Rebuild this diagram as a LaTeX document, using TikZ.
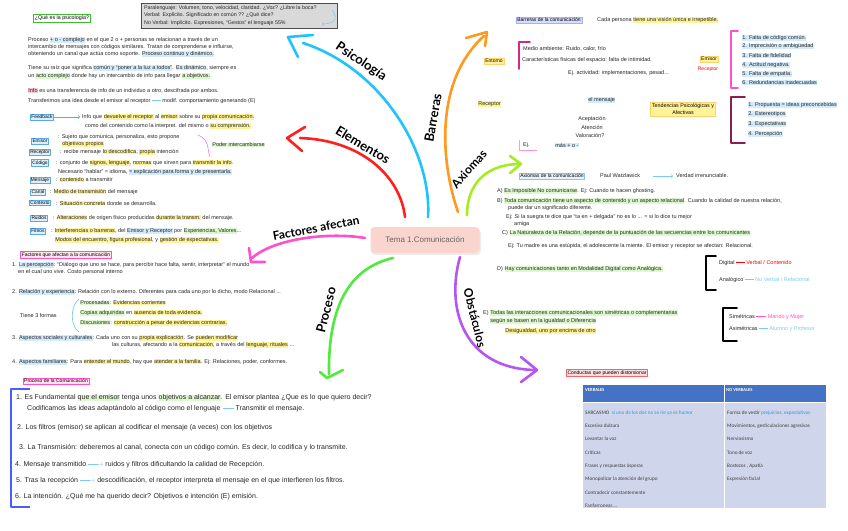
\documentclass[tikz,border=0pt]{standalone}
\usepackage{fontspec}
\setmainfont{Liberation Sans}
\newfontfamily\tabfont{Carlito}
\newfontfamily\brfont{Lato}
\definecolor{hy}{HTML}{FFF39A}
\definecolor{hbl}{HTML}{D3EBFB}
\definecolor{hgr}{HTML}{DDF8CF}
\definecolor{hpk}{HTML}{F9C9D2}
\definecolor{lb}{HTML}{7EC8F5}
\definecolor{cyb}{HTML}{1FC3FF}
\definecolor{redb}{HTML}{FF1F1F}
\definecolor{magb}{HTML}{FF4FCB}
\definecolor{grb}{HTML}{4FEA3C}
\definecolor{orb}{HTML}{FF9A1F}
\definecolor{ygb}{HTML}{A6EC1F}
\definecolor{pub}{HTML}{B555F2}
\definecolor{centerf}{HTML}{F9D5CD}
\definecolor{boxb}{HTML}{5AAAE6}
\definecolor{boxbf}{HTML}{DCEFFC}
\definecolor{tabhead}{HTML}{4472C4}
\definecolor{tabbody}{HTML}{CFD5EA}
\definecolor{tabblue}{HTML}{3D8FE0}
\definecolor{brblue}{HTML}{4B5BFF}
\definecolor{maroon}{HTML}{8B1E4F}
\definecolor{magbr}{HTML}{D6287F}
\newcommand\HL[2]{{\setlength{\fboxsep}{0.2pt}\colorbox{#1}{#2}}}
\newcommand\HLy[1]{\HL{hy}{#1}}
\newcommand\HLb[1]{\HL{hbl}{#1}}
\newcommand\HLg[1]{\HL{hgr}{#1}}
\newcommand\HLp[1]{\HL{hpk}{#1}}
\newcommand\LBln{\textcolor{lb}{\rule[0.55ex]{1.6em}{0.5pt}}}
\newcommand\LBar{\textcolor{lb}{\rule[0.55ex]{1.4em}{0.5pt}\kern-0.35em$\rightarrow$}}
\newcommand\REDln{\textcolor{red}{\rule[0.55ex]{1.6em}{0.5pt}}}
\newcommand\MAGln{\textcolor{magb}{\rule[0.55ex]{1.8em}{0.5pt}}}
\tikzset{
 txt/.style={anchor=west, inner sep=0pt, font=\fontsize{5.5}{6}\selectfont, text=black!85},
 gtxt/.style={anchor=west, inner sep=0pt, font=\fontsize{5.3}{6}\selectfont, text=black!85},
 ptxt/.style={anchor=west, inner sep=0pt, font=\fontsize{7}{8}\selectfont, text=black!85},
 elbox/.style={draw=boxb, fill=boxbf, inner sep=1pt, font=\fontsize{4.8}{5}\selectfont, line width=0.5pt},
 ybox/.style={draw=hy!70!orange, fill=hy, inner sep=1.2pt, font=\fontsize{5}{6}\selectfont, line width=0.4pt},
 pbox/.style={draw=magb, fill=hpk!50, inner sep=1.2pt, font=\fontsize{5}{6}\selectfont, line width=0.6pt},
 branch/.style={line width=2.6pt, line cap=round, line join=round},
 brack/.style={line width=1.6pt, line cap=round, line join=round},
 brlabel/.style={font=\brfont\bfseries\fontsize{13}{14}\selectfont, inner sep=0pt},
 tabtxt/.style={anchor=west, inner sep=0pt, font=\tabfont\fontsize{5.2}{6}\selectfont, text=black!75},
}
\begin{document}
\begin{tikzpicture}[x=1pt,y=-1pt]
\useasboundingbox (0,0) rectangle (848,530);
\fill[white] (0,0) rectangle (848,530);

% ---------- central node ----------
\fill[black!7, rounded corners=4pt] (371,229) rectangle (481,255);
\node[fill=centerf, rounded corners=4pt, minimum width=109pt, minimum height=26pt,
      font=\fontsize{8}{9}\selectfont, text=black!60] (c) at (425,240) {Tema 1.Comunicación};

% ---------- branches ----------
\coordinate (psiS) at (428,217); \coordinate (psiE) at (303,43);
\draw[branch,cyb] (psiS) .. controls (432,150) and (380,68) .. (psiE);
\draw[branch,cyb] (313,35) -- (288,37) -- (298,57);
\node[brlabel, rotate=-34] (psi) at (361,62) {Psicología};

\coordinate (elS) at (405,217); \coordinate (elE) at (300,138);
\draw[branch,redb] (elS) .. controls (400,175) and (360,140) .. (elE);
\draw[branch,redb] (305,127) -- (287,138) -- (302,151);
\node[brlabel, rotate=-31] (ele) at (363,145) {Elementos};

\coordinate (faS) at (365,238); \coordinate (faE) at (252,258);
\draw[branch,magb] (faS) .. controls (330,232) and (275,238) .. (faE);
\draw[branch,magb] (249,248) -- (251,262) -- (265,262);
\node[brlabel, rotate=11, font=\brfont\bfseries\fontsize{12}{13}\selectfont] (fac) at (316,228) {Factores afectan};

\coordinate (prS) at (393,258); \coordinate (prE) at (329,374);
\draw[branch,grb] (prS) .. controls (350,268) and (328,305) .. (prE);
\draw[branch,grb] (320,372) -- (327,378) -- (343,370);
\node[brlabel, rotate=76] (pro) at (326,310) {Proceso};

\coordinate (baS) at (458,212); \coordinate (baE) at (484,36);
\draw[branch,orb] (baS) .. controls (440,160) and (435,80) .. (baE);
\draw[branch,orb] (466,38) -- (487,32) -- (485,46);
\node[brlabel, rotate=80] (bar) at (433,118) {Barreras};

\coordinate (axS) at (467,215); \coordinate (axE) at (518,164);
\draw[branch,ygb] (axS) .. controls (467,185) and (485,165) .. (axE);
\draw[branch,ygb] (510,156) -- (521,164) -- (510,173);
\node[brlabel, rotate=48, font=\brfont\bfseries\fontsize{12}{13}\selectfont] (axi) at (469,169) {Axiomas};

\coordinate (obS) at (460,257); \coordinate (obE) at (534,370);
\draw[branch,pub] (obS) .. controls (445,310) and (465,368) .. (obE);
\draw[branch,pub] (521,357) -- (537,370) -- (521,382);
\node[brlabel, rotate=-76, font=\brfont\bfseries\fontsize{12}{13}\selectfont] (obs) at (475,318) {Obstáculos};

% ---------- Psicologia area ----------
\node[draw=grb!80!black, fill=white, line width=0.8pt, inner sep=1.5pt, font=\fontsize{5.3}{6}\selectfont] (qpsi) at (62,18) {¿Qué es la psicología?};
\draw[black!70, fill=black!15, line width=0.6pt] (141,3) rectangle (337,28);
\node[gtxt] (g1) at (144,8) {Paralenguaje: Volumen, tono, velocidad, claridad. ¿Voz? ¿Libre la boca?};
\node[gtxt] (g2) at (144,15.5) {Verbal: Explícito. Significado en común ?? ¿Qué dice?};
\node[gtxt] (g3) at (144,23) {No Verbal: Implícito. Expresiones, “Gestos” el lenguaje 55\%};
\draw[lb, line width=0.6pt, ->] (332,10) .. controls (340,20) and (332,24) .. (322,24);

\node[txt] (p1) at (28,40) {Proceso \HLb{+ o - complejo} en el que 2 o + personas se relacionan a través de un};
\node[txt] (p2) at (28,47) {intercambio de mensajes con códigos similares. Tratan de comprenderse e influirse,};
\node[txt] (p3) at (28,54) {obteniendo un canal que actúa como soporte. \HLb{Proceso continuo y dinámico.}};
\node[txt] (p4) at (28,68) {Tiene su raíz que significa \HLb{común y “poner a la luz a todos”}. \HLb{Es dinámico}, siempre es};
\node[txt] (p5) at (28,76) {un \HLg{acto complejo} donde hay un intercambio de info para llegar \HLg{a objetivos.}};
\node[txt] (p6) at (28,91) {\HLp{Info} es una transferencia de info de un individuo a otro, descifrada por ambos.};
\node[txt] (p7) at (28,101) {Transferimos una idea desde el emisor al receptor \LBln{} modif. comportamiento generando (E)};
\node[elbox] (fb) at (42,117) {Feedback};
\coordinate (fbE) at (80,117);
\draw[boxb, line width=0.6pt, ->] (fb.east) -- (fbE);
\node[txt] (p8) at (82,117) {Info que \HLy{devuelve el receptor} al \HLy{emisor} sobre su \HLy{propia comunicación.}};
\node[txt] (p9) at (85,126) {como del contenido como la interpret. del mismo o \HLy{su comprensión.}};

% ---------- Elementos ----------
\node[elbox] (em) at (40,141) {Emisor};
\node[txt] (emt) at (58,137) {: Sujeto que comunica, personaliza, esto propone};
\node[txt] (emt2) at (62,144) {\HLy{objetivos propios}};
\node[elbox] (re) at (40,152) {Receptor};
\node[txt] (ret) at (60,152) {: recibe mensaje \HLy{lo descodifica}, \HLy{propia} intención};
\draw[magb!70, line width=0.7pt] (198,135) .. controls (210,140) and (207,150) .. (210,157);
\node[txt] (pi) at (212,145) {\HLg{Poder intercambiarse}};
\node[elbox] (co) at (40,163) {Código};
\node[txt] (cot) at (56,163) {: conjunto de \HLy{signos, lenguaje}, \HLy{normas} que sirven para \HLy{transmitir la info}.};
\node[txt] (cot2) at (58,172) {Necesario “hablar” = idioma, \HLb{= explicación para forma y de presentarla.}};
\node[elbox] (me) at (40,180) {Mensaje};
\node[txt] (met) at (56,180) {: \HLy{contenido} a transmitir};
\node[elbox] (ca) at (38,192) {Canal};
\node[txt] (cat) at (50,192) {: \HLy{Medio de transmisión} del mensaje};
\node[elbox] (cx) at (40,203) {Contexto};
\node[txt] (cxt) at (56,203) {: \HLy{Situación concreta} donde se desarrolla.};
\node[elbox] (ru) at (39,218) {Ruidos};
\node[txt] (rut) at (53,218) {: \HLy{Alteraciones} de origen físico producidas \HLy{durante la transm.} del mensaje.};
\node[elbox] (fi) at (38,231) {Filtros};
\node[txt] (fit) at (51,231) {: \HLy{Interferencias o barreras}, del \HLb{Emisor y Receptor} por \HLg{Experiencias, Valores}...};
\node[txt] (fit2) at (55,240) {\HLy{Modos del encuentro, figura profesional}, y \HLy{gestión de expectativas.}};

% ---------- Factores ----------
\node[pbox] (fbox) at (66,255) {Factores que afectan a la comunicación};
\node[txt] (f1) at (12,265) {1. \HLb{La percepción}: “Diálogo que uno se hace, para percibir hace falta, sentir, interpretar” el mundo};
\node[txt] (f1b) at (18,272) {en el cual uno vive. Costo personal interno};
\node[txt] (f2) at (12,292) {2. \HLb{Relación y experiencia}: Relación con lo externo. Diferentes para cada uno por lo dicho, modo Relacional ...};
\node[txt] (f3f) at (20,316) {Tiene 3 formas};
\draw[lb, line width=0.7pt] (79,299) .. controls (70,306) and (70,326) .. (79,332);
\node[txt] (fa) at (80,303) {\HLg{Procesadas}: \HLy{Evidencias corrientes}};
\node[txt] (fb2) at (80,313) {\HLg{Copias adquiridas} en \HLy{ausencia de toda evidencia.}};
\node[txt] (fc) at (80,323) {\HLg{Discusiones}: \HLy{construcción a pesar de evidencias contrarias.}};
\node[txt] (f4) at (12,338) {3. \HLb{Aspectos sociales y culturales}: Cada uno con su \HLy{propia explicación}. Se \HLy{pueden modificar}};
\node[txt] (f4b) at (112,345) {las culturas, afectando a la \HLy{comunicación}, a través del \HLy{lenguaje, rituales} ...};
\node[txt] (f5) at (12,362) {4. \HLb{Aspectos familiares}: Para \HLy{entender el mundo}, hay que \HLy{atender a la familia}. Ej: Relaciones, poder, conformes.};

% ---------- Proceso ----------
\node[pbox] (pbox1) at (56,381) {Proceso de la Comunicación};
\draw[brblue, line width=2.2pt, line join=round] (30,389) -- (11,389) -- (11,507) -- (30,507);
\node[ptxt] (q1) at (16,398) {1. Es Fundamental \HLg{que el emisor} tenga unos \HLg{objetivos a alcanzar}. El emisor plantea ¿Que es lo que quiero decir?};
\node[ptxt] (q1b) at (27,409) {Codificamos las ideas adaptándolo al código como el lenguaje \LBln{} Transmitir el mensaje.};
\node[ptxt] (q2) at (17,428) {2. Los filtros (emisor) se aplican al codificar el mensaje (a veces) con los objetivos};
\node[ptxt] (q3) at (19,448) {3. La Transmisión: deberemos al canal, conecta con un código común. Es decir, lo codifica y lo transmite.};
\node[ptxt] (q4) at (15,465) {4. Mensaje transmitido \LBar{} ruidos y filtros dificultando la calidad de Recepción.};
\node[ptxt] (q5) at (16,481) {5. Tras la recepción \LBar{} descodificación, el receptor interpreta el mensaje en el que interfieren los filtros.};
\node[ptxt] (q6) at (15,497) {6. La intención. ¿Qué me ha querido decir? Objetivos e intención (E) emisión.};

% ---------- Barreras ----------
\node[draw=brblue!50, fill=brblue!22, inner sep=1.2pt, font=\fontsize{5}{6}\selectfont] (bcom) at (549,20) {Barreras de la comunicación};
\node[txt] (bct) at (597,20) {Cada persona \HLy{tiene una visión única e irrepetible.}};
\node[ybox] (ent) at (494,61) {Entorno};
\draw[brack, magbr] (530,42) -- (519,42) -- (519,69);
\node[txt] (e1) at (523,49) {Medio ambiente: Ruido, calor, frío};
\node[txt] (e2) at (522,60) {Características físicas del espacio: falta de intimidad.};
\node[txt] (e3) at (568,73) {Ej. actividad: implementaciones, pesad...};
\node[ybox] (bem) at (709,59) {Emisor};
\node[inner sep=0pt, font=\fontsize{5}{6}\selectfont, text=red] (bre) at (708,69) {Receptor};
\draw[brack, magb] (738,31) -- (731,31) -- (731,88) -- (738,88);
\node[txt] (l1) at (742,38) {\HLb{1. Falta de código común.}};
\node[txt] (l2) at (742,46.5) {\HLb{2. Imprecisión o ambigüedad}};
\node[txt] (l3) at (742,55.5) {\HLb{3. Falta de fidelidad}};
\node[txt] (l4) at (742,65) {\HLb{4. Actitud negativa.}};
\node[txt] (l5) at (742,74) {\HLb{5. Falta de empatía.}};
\node[txt] (l6) at (742,82.5) {\HLb{6. Redundancias inadecuadas}};
\node[txt] (brec) at (478,104) {\HLy{Receptor}};
\node[txt] (bmen) at (588,100) {\HLb{el mensaje}};
\node[txt, anchor=center] (s1) at (592,119) {Aceptación};
\node[txt, anchor=center] (s2) at (592,127) {Atención};
\node[txt, anchor=center] (s3) at (590,135) {Valoración?};
\draw[magb!60, line width=1pt] (519,140) -- (519,150) -- (537,150);
\node[txt] (ej0) at (523,145) {Ej.};
\node[txt] (ej1) at (555,145) {\HLb{más + o -}};
\node[draw=hy!70!orange, fill=hy, inner sep=1.5pt, align=center, font=\fontsize{5.3}{6.5}\selectfont] (tend) at (683,109) {Tendencias Psicológicas y\\Afectivas};
\draw[brack, maroon] (745,97) -- (731,97) -- (731,143) -- (745,143);
\node[txt] (t1) at (748,105) {\HLb{1. Propuesta = ideas preconcebidas}};
\node[txt] (t2) at (748,114) {\HLb{2. Estereotipos}};
\node[txt] (t3) at (748,124) {\HLb{3. Expectativas}};
\node[txt] (t4) at (748,134) {\HLb{4. Percepción}};

% ---------- Axiomas ----------
\node[draw=lb, fill=hbl!60, line width=0.8pt, inner sep=1.2pt, font=\fontsize{5}{6}\selectfont] (axb) at (552,176) {Axiomas de la comunicación};
\node[txt] (pw) at (600,176) {Paul Watzlawick};
\coordinate (vdS) at (653,176); \coordinate (vdE) at (673,176);
\draw[lb, line width=0.6pt, ->] (vdS) -- (vdE);
\node[txt] (vd) at (676,176) {Verdad irrenunciable.};
\node[txt] (a1) at (497,191) {A) \HLg{Es Imposible No comunicarse}. Ej: Cuando te hacen ghosting.};
\node[txt] (a2) at (497,201) {B) \HLg{Toda comunicación tiene un aspecto de contenido y un aspecto relacional}. Cuando la calidad de nuestra relación,};
\node[txt] (a2b) at (508,208) {puede dar un significado diferente.};
\node[txt] (a3) at (506,217.5) {Ej: Si la suegra te dice que “ta en + delgada” no es lo ... = si lo dice tu mejor};
\node[txt] (a3b) at (514,224.5) {amiga};
\node[txt] (a4) at (502,233) {C) \HLg{La Naturaleza de la Relación, depende de la puntuación de las secuencias entre los comunicantes}};
\node[txt] (a5) at (508,246) {Ej: Tu madre es una estúpida, el adolescente la miente. El emisor y receptor se afectan: Relacional.};
\node[txt] (a6) at (497,269) {D) \HLg{Hay comunicaciones tanto en Modalidad Digital como Analógica.}};
\draw[brack, black] (716,256) -- (706,256) -- (706,290) -- (716,290);
\node[txt] (dg) at (719,263) {Digital \REDln{} \textcolor{red}{Verbal / Contenido}};
\node[txt] (an) at (719,280) {Analógico \LBln{} \textcolor{lb}{No Verbal / Relacional}};
\node[txt] (a7) at (483,313) {E) \HLg{Todas las interacciones comunicacionales son simétricas o complementarias}};
\node[txt] (a7b) at (490,321) {\HLg{según se basen en la igualdad o Diferencia}};
\node[txt] (a7c) at (505,331) {\HLy{Desigualdad, uno por encima de otro}};
\draw[brack, black] (737,308) -- (723,308) -- (723,341) -- (737,341);
\node[txt] (sim) at (729,317) {Simétricas \MAGln{} \textcolor{magb}{Marido y Mujer}};
\node[txt] (asim) at (729,329) {Asimétricas \LBln{} \textcolor{lb}{Alumno y Profesor}};

% ---------- Obstaculos / table ----------
\node[draw=redb!70, fill=hpk!60, line width=0.6pt, inner sep=1.2pt, font=\fontsize{5}{6}\selectfont] (cond) at (607,373) {Conductas que pueden distorsionar};
\begin{scope}
\clip (583,385) rectangle (826,508);
\fill[tabbody] (583,385) rectangle (826,508);
\fill[tabhead] (583,385) rectangle (826,402);
\draw[white, line width=0.8pt] (724,385) -- (724,508);
\draw[white, line width=0.8pt] (583,402) -- (826,402);
\node[tabtxt, text=white, font=\tabfont\bfseries\fontsize{4.6}{5}\selectfont] (hv) at (585,390) {VERBALES};
\node[tabtxt, text=white, font=\tabfont\bfseries\fontsize{4.6}{5}\selectfont] (hn) at (726,390) {NO VERBALES};
\node[tabtxt] (v1) at (585,413) {SARCASMO \ \textcolor{tabblue}{si uno de los dos no se ríe ya es humor}};
\node[tabtxt] (v2) at (585,426) {Excesiva dulzura};
\node[tabtxt] (v3) at (585,439) {Levantar la voz};
\node[tabtxt] (v4) at (585,453) {Críticas};
\node[tabtxt] (v5) at (585,466) {Frases y respuestas ásperas};
\node[tabtxt] (v6) at (585,479) {Monopolizar la atención del grupo};
\node[tabtxt] (v7) at (585,493) {Contradecir constantemente};
\node[tabtxt] (v8) at (585,506) {Fanfarronear....};
\node[tabtxt] (n1) at (727,413) {Forma de vestir \textcolor{tabblue}{prejuicios, expectativas}};
\node[tabtxt] (n2) at (727,426) {Movimientos, gesticulaciones agresivas};
\node[tabtxt] (n3) at (727,439) {Nerviosismo};
\node[tabtxt] (n4) at (727,453) {Tono de voz};
\node[tabtxt] (n5) at (727,466) {Bostezos , Apatía};
\node[tabtxt] (n6) at (727,479) {Expresión facial};
\end{scope}
\end{tikzpicture}
\end{document}
